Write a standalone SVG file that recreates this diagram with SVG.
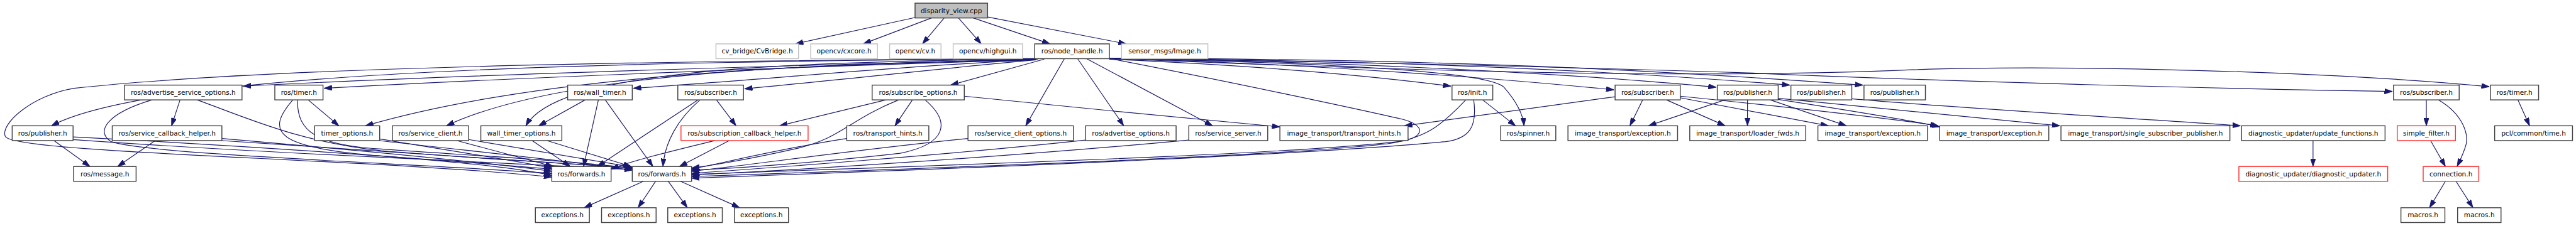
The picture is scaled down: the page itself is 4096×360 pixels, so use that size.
<svg xmlns="http://www.w3.org/2000/svg" width="4096" height="360" viewBox="0 0 4096 360">
<style>
.nd rect{fill:#fff;stroke:#404040;stroke-width:1.7}
.gr rect{fill:#fff;stroke:#c0c0c0;stroke-width:1.7}
.rd rect{fill:#fff;stroke:#ff3030;stroke-width:1.7}
.rt rect{fill:#bfbfbf;stroke:#404040;stroke-width:1.7}
text{font-family:"DejaVu Sans","Liberation Sans",sans-serif;font-size:12.6px;text-anchor:middle;fill:#000}
#edges path{fill:none;stroke:#191970;stroke-width:1.4;marker-end:url(#a)}
</style>
<defs>
<marker id="a" viewBox="0 0 15 10" refX="15" refY="5" markerWidth="15" markerHeight="10" markerUnits="userSpaceOnUse" orient="auto"><path d="M0,0 L15,5 L0,10 z" fill="#191970" stroke="#191970" stroke-width="1"/></marker>
</defs>
<rect width="4096" height="360" fill="#fff"/>
<g transform="scale(0.842)">
<g id="edges">
<path d="M1729,33 L1502,83"/>
<path d="M1759,34 L1630,83"/>
<path d="M1783,34 L1742,83"/>
<path d="M1810,34 L1853,83"/>
<path d="M1838,34 L1983,83"/>
<path d="M1864,32 L2127,83"/>
<path d="M1955,112 C1500,124 900,140 459,163"/>
<path d="M1955,113 C1500,127 1000,146 612,167"/>
<path d="M1956,113 C1450,122 1000,148 690,238"/>
<path d="M1956,113 C1500,121 1050,140 843,238"/>
<path d="M1957,112 C1400,117 1050,140 993,238"/>
<path d="M1957,113 C1700,125 1450,150 1196,167"/>
<path d="M1960,113 C1800,127 1600,150 1406,168"/>
<path d="M1972,112 L1795,161"/>
<path d="M2010,111 L1937,238"/>
<path d="M2035,111 L2122,238"/>
<path d="M2052,111 L2290,238"/>
<path d="M1955,111 C1200,117 300,130 97,238"/>
<path d="M1955,111 C1200,115 500,128 140,167 C60,180 0,235 10,258 C25,290 700,300 1042,335"/>
<path d="M102,266 L170,315"/>
<path d="M138,259 C450,275 800,300 1042,320"/>
<path d="M138,264 C500,290 900,305 1194,321"/>
<path d="M293,266 L222,315"/>
<path d="M419,262 C650,282 900,305 1042,324"/>
<path d="M419,266 C700,285 1000,303 1194,318"/>
<path d="M340,189 L324,238"/>
<path d="M287,189 C200,215 180,250 210,268 C280,292 750,308 1042,328"/>
<path d="M372,189 C460,220 560,268 720,285 C900,300 1050,308 1194,317"/>
<path d="M582,189 L640,238"/>
<path d="M553,189 C500,250 520,280 720,295 C880,308 980,318 1042,332"/>
<path d="M562,189 C560,250 600,275 720,282 C900,295 1100,305 1194,319"/>
<path d="M717,263 C850,285 980,305 1042,318"/>
<path d="M717,266 C900,287 1080,305 1194,322"/>
<path d="M863,266 L1045,315"/>
<path d="M885,264 L1194,316"/>
<path d="M1005,266 L1077,315"/>
<path d="M1033,266 L1192,315"/>
<path d="M1105,189 L1017,238"/>
<path d="M1130,189 L1102,315"/>
<path d="M1143,189 L1233,315"/>
<path d="M1353,189 L1390,238"/>
<path d="M1322,189 C1280,225 1255,270 1252,315"/>
<path d="M1318,189 L1128,315"/>
<path d="M1377,266 L1283,315"/>
<path d="M1350,266 C1260,288 1190,305 1154,320"/>
<path d="M1599,262 C1480,280 1380,305 1306,320"/>
<path d="M1828,262 C1600,285 1420,312 1306,324"/>
<path d="M2050,265 C1800,292 1450,318 1306,328"/>
<path d="M2245,265 C1900,297 1500,322 1306,331"/>
<path d="M1723,189 L1690,238"/>
<path d="M1673,189 L1472,238"/>
<path d="M1697,189 C1600,228 1590,262 1500,282 C1420,300 1350,312 1306,318"/>
<path d="M1747,189 C1795,230 1790,272 1700,290 C1560,306 1400,318 1306,322"/>
<path d="M1821,182 C2000,200 2250,225 2417,240"/>
<path d="M2800,189 L2862,238"/>
<path d="M2097,111 C2300,150 2560,205 2650,226 C2695,238 2690,262 2640,268 C2450,290 2000,305 1306,330"/>
<path d="M2768,189 C2720,240 2690,262 2620,272 C2450,292 2000,310 1306,334"/>
<path d="M2783,189 C2790,240 2775,262 2730,268 C2500,290 2000,312 1306,337"/>
<path d="M2095,112 C2400,125 2600,145 2740,163"/>
<path d="M2095,111 C2500,118 2810,135 2840,165 C2862,190 2876,215 2878,238"/>
<path d="M2095,110 C2500,122 2850,150 3048,170"/>
<path d="M2095,110 C2600,118 3000,142 3241,165"/>
<path d="M2095,110 C2700,115 3100,138 3380,161"/>
<path d="M2095,110 C2800,112 3200,138 3518,161"/>
<path d="M2095,110 C2700,120 3000,128 3300,138 C3700,155 4200,168 4518,173"/>
<path d="M2095,111 C2700,135 3200,150 3610,132 C3900,122 4400,135 4701,164"/>
<path d="M3102,189 L3078,238"/>
<path d="M3050,183 L2652,238"/>
<path d="M3147,189 L3258,238"/>
<path d="M3173,185 L3453,238"/>
<path d="M3173,182 C3400,205 3600,228 3660,238"/>
<path d="M3257,189 L3113,238"/>
<path d="M3300,189 L3300,238"/>
<path d="M3343,189 L3487,238"/>
<path d="M3358,188 C3500,210 3620,230 3663,240"/>
<path d="M3358,186 C3550,205 3800,228 3890,238"/>
<path d="M3497,187 C3700,205 4050,225 4231,238"/>
<path d="M4582,189 L4582,238"/>
<path d="M4605,189 C4650,215 4665,255 4655,280 C4650,295 4645,305 4640,315"/>
<path d="M4590,266 L4618,315"/>
<path d="M4618,343 L4588,393"/>
<path d="M4638,343 L4670,393"/>
<path d="M4755,189 L4777,238"/>
<path d="M4368,266 L4368,315"/>
<path d="M1215,343 L1103,393"/>
<path d="M1238,343 L1205,393"/>
<path d="M1262,343 L1298,393"/>
<path d="M1285,343 L1397,393"/>
</g>
<g id="n0" class="rt"><rect x="1728" y="6" width="137" height="28"/><text x="1796.5" y="24.5">disparity_view.cpp</text></g>
<g id="n1" class="gr"><rect x="1352" y="83" width="156" height="28"/><text x="1430" y="101.5">cv_bridge/CvBridge.h</text></g>
<g id="n2" class="gr"><rect x="1531" y="83" width="126" height="28"/><text x="1594" y="101.5">opencv/cxcore.h</text></g>
<g id="n3" class="gr"><rect x="1680" y="83" width="97" height="28"/><text x="1728.5" y="101.5">opencv/cv.h</text></g>
<g id="n4" class="gr"><rect x="1800" y="83" width="131" height="28"/><text x="1865.5" y="101.5">opencv/highgui.h</text></g>
<g id="n5" class="nd"><rect x="1954" y="83" width="141" height="28"/><text x="2024.5" y="101.5">ros/node_handle.h</text></g>
<g id="n6" class="gr"><rect x="2118" y="83" width="163" height="28"/><text x="2199.5" y="101.5">sensor_msgs/Image.h</text></g>
<g id="n7" class="nd"><rect x="235" y="161" width="222" height="28"/><text x="346" y="179.5">ros/advertise_service_options.h</text></g>
<g id="n8" class="nd"><rect x="519" y="161" width="91" height="28"/><text x="564.5" y="179.5">ros/timer.h</text></g>
<g id="n9" class="nd"><rect x="1072" y="161" width="122" height="28"/><text x="1133" y="179.5">ros/wall_timer.h</text></g>
<g id="n10" class="nd"><rect x="1280" y="161" width="124" height="28"/><text x="1342" y="179.5">ros/subscriber.h</text></g>
<g id="n11" class="nd"><rect x="1647" y="161" width="174" height="28"/><text x="1734" y="179.5">ros/subscribe_options.h</text></g>
<g id="n12" class="nd"><rect x="2742" y="161" width="77" height="28"/><text x="2780.5" y="179.5">ros/init.h</text></g>
<g id="n13" class="nd"><rect x="3050" y="161" width="123" height="28"/><text x="3111.5" y="179.5">ros/subscriber.h</text></g>
<g id="n14" class="nd"><rect x="3243" y="161" width="115" height="28"/><text x="3300.5" y="179.5">ros/publisher.h</text></g>
<g id="n15" class="nd"><rect x="3382" y="161" width="115" height="28"/><text x="3439.5" y="179.5">ros/publisher.h</text></g>
<g id="n16" class="nd"><rect x="3520" y="161" width="116" height="28"/><text x="3578" y="179.5">ros/publisher.h</text></g>
<g id="n17" class="nd"><rect x="4520" y="161" width="124" height="28"/><text x="4582" y="179.5">ros/subscriber.h</text></g>
<g id="n18" class="nd"><rect x="4703" y="161" width="91" height="28"/><text x="4748.5" y="179.5">ros/timer.h</text></g>
<g id="n19" class="nd"><rect x="23" y="238" width="115" height="28"/><text x="80.5" y="256.5">ros/publisher.h</text></g>
<g id="n20" class="nd"><rect x="212" y="238" width="207" height="28"/><text x="315.5" y="256.5">ros/service_callback_helper.h</text></g>
<g id="n21" class="nd"><rect x="594" y="238" width="123" height="28"/><text x="655.5" y="256.5">timer_options.h</text></g>
<g id="n22" class="nd"><rect x="741" y="238" width="144" height="28"/><text x="813" y="256.5">ros/service_client.h</text></g>
<g id="n23" class="nd"><rect x="908" y="238" width="153" height="28"/><text x="984.5" y="256.5">wall_timer_options.h</text></g>
<g id="n24" class="rd"><rect x="1286" y="238" width="240" height="28"/><text x="1406" y="256.5">ros/subscription_callback_helper.h</text></g>
<g id="n25" class="nd"><rect x="1599" y="238" width="155" height="28"/><text x="1676.5" y="256.5">ros/transport_hints.h</text></g>
<g id="n26" class="nd"><rect x="1828" y="238" width="199" height="28"/><text x="1927.5" y="256.5">ros/service_client_options.h</text></g>
<g id="n27" class="nd"><rect x="2050" y="238" width="171" height="28"/><text x="2135.5" y="256.5">ros/advertise_options.h</text></g>
<g id="n28" class="nd"><rect x="2245" y="238" width="149" height="28"/><text x="2319.5" y="256.5">ros/service_server.h</text></g>
<g id="n29" class="nd"><rect x="2417" y="238" width="242" height="28"/><text x="2538" y="256.5">image_transport/transport_hints.h</text></g>
<g id="n30" class="nd"><rect x="2834" y="238" width="104" height="28"/><text x="2886" y="256.5">ros/spinner.h</text></g>
<g id="n31" class="nd"><rect x="2961" y="238" width="207" height="28"/><text x="3064.5" y="256.5">image_transport/exception.h</text></g>
<g id="n32" class="nd"><rect x="3191" y="238" width="219" height="28"/><text x="3300.5" y="256.5">image_transport/loader_fwds.h</text></g>
<g id="n33" class="nd"><rect x="3433" y="238" width="207" height="28"/><text x="3536.5" y="256.5">image_transport/exception.h</text></g>
<g id="n34" class="nd"><rect x="3663" y="238" width="206" height="28"/><text x="3766" y="256.5">image_transport/exception.h</text></g>
<g id="n35" class="nd"><rect x="3892" y="238" width="319" height="28"/><text x="4051.5" y="256.5">image_transport/single_subscriber_publisher.h</text></g>
<g id="n36" class="nd"><rect x="4233" y="238" width="271" height="28"/><text x="4368.5" y="256.5">diagnostic_updater/update_functions.h</text></g>
<g id="n37" class="rd"><rect x="4527" y="238" width="110" height="28"/><text x="4582" y="256.5">simple_filter.h</text></g>
<g id="n38" class="nd"><rect x="4711" y="238" width="147" height="28"/><text x="4784.5" y="256.5">pcl/common/time.h</text></g>
<g id="n39" class="nd"><rect x="139" y="315" width="118" height="28"/><text x="198" y="333.5">ros/message.h</text></g>
<g id="n40" class="nd"><rect x="1042" y="315" width="112" height="28"/><text x="1098" y="333.5">ros/forwards.h</text></g>
<g id="n41" class="nd"><rect x="1194" y="315" width="112" height="28"/><text x="1250" y="333.5">ros/forwards.h</text></g>
<g id="n42" class="rd"><rect x="4228" y="315" width="281" height="28"/><text x="4368.5" y="333.5">diagnostic_updater/diagnostic_updater.h</text></g>
<g id="n43" class="rd"><rect x="4576" y="315" width="105" height="28"/><text x="4628.5" y="333.5">connection.h</text></g>
<g id="n44" class="nd"><rect x="1011" y="393" width="102" height="28"/><text x="1062" y="411.5">exceptions.h</text></g>
<g id="n45" class="nd"><rect x="1136" y="393" width="103" height="28"/><text x="1187.5" y="411.5">exceptions.h</text></g>
<g id="n46" class="nd"><rect x="1261" y="393" width="103" height="28"/><text x="1312.5" y="411.5">exceptions.h</text></g>
<g id="n47" class="nd"><rect x="1387" y="393" width="102" height="28"/><text x="1438" y="411.5">exceptions.h</text></g>
<g id="n48" class="nd"><rect x="4534" y="393" width="83" height="28"/><text x="4575.5" y="411.5">macros.h</text></g>
<g id="n49" class="nd"><rect x="4641" y="393" width="82" height="28"/><text x="4682" y="411.5">macros.h</text></g>
</g>
</svg>
